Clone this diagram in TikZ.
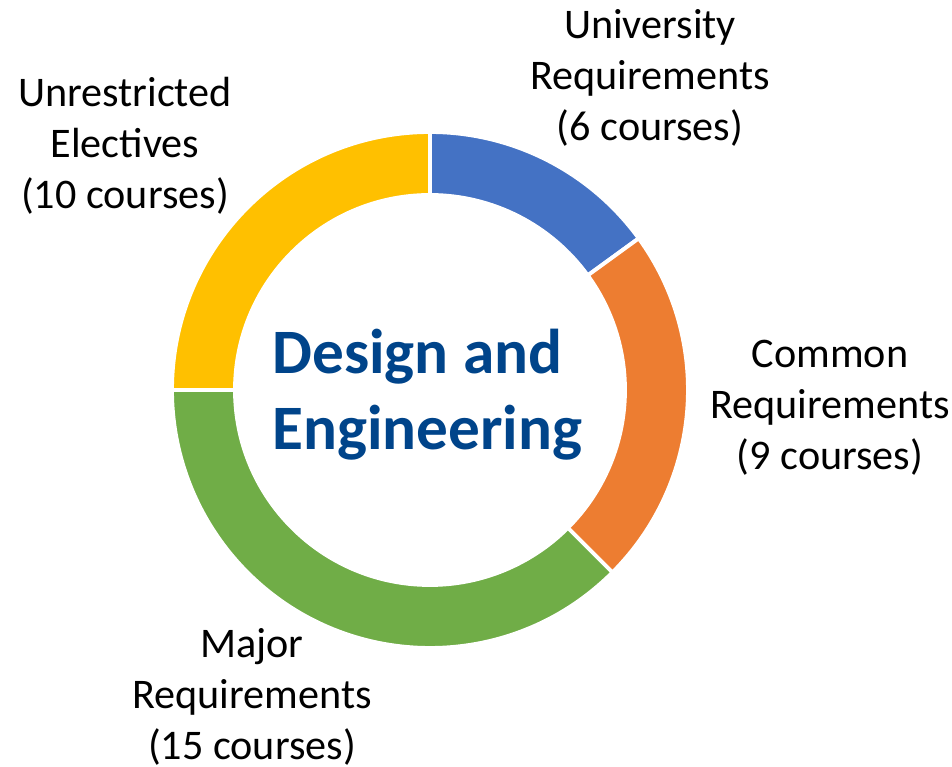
\documentclass[tikz,border=0pt]{standalone}
\usepackage{fontspec}
\setmainfont{Carlito}
\usetikzlibrary{positioning}
\definecolor{univblue}{HTML}{4472C4}
\definecolor{commonorange}{HTML}{ED7D31}
\definecolor{majorgreen}{HTML}{70AD47}
\definecolor{electyellow}{HTML}{FFC000}
\definecolor{titleblue}{HTML}{00448A}
\begin{document}
\begin{tikzpicture}[
  ring/.style = {draw=white, line width=2.2pt},
  lbl/.style = {align=center, inner sep=0pt,
    font=\fontsize{24}{29}\selectfont},
  titletext/.style = {align=left, inner sep=0pt, text=titleblue,
    font=\fontsize{36}{43.2}\selectfont\bfseries}]
  \useasboundingbox (-8.6,7.8) rectangle (10.44,-7.54);
  \def\Rout{5.16}
  \def\Rin{3.9}
  \foreach \a/\b/\c in {90/36/univblue, 36/-45/commonorange,
      -45/-180/majorgreen, 180/90/electyellow}
    \filldraw[ring, fill=\c] (\a:\Rout) arc[start angle=\a, end angle=\b, radius=\Rout]
      -- (\b:\Rin) arc[start angle=\b, end angle=\a, radius=\Rin] -- cycle;
  \node[titletext, anchor=west] (title) at (-3.16,-0.1) {Design and\\Engineering};
  \node[lbl] (univ) at (4.4,6.24) {University\\Requirements\\(6 courses)};
  \node[lbl] (common) at (8.0,-0.36) {Common\\Requirements\\(9 courses)};
  \node[lbl] (major) at (-3.56,-6.14) {Major\\Requirements\\(15 courses)};
  \node[lbl] (elective) at (-6.1,4.88) {Unrestricted\\Electives\\(10 courses)};
\end{tikzpicture}
\end{document}
